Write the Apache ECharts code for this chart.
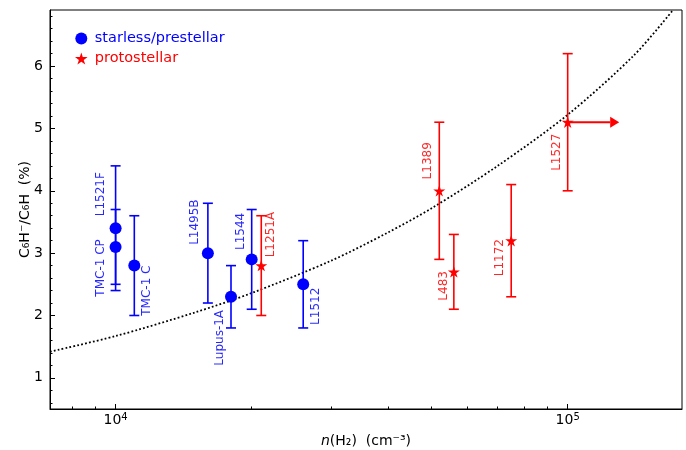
<!DOCTYPE html>
<html><head><meta charset="utf-8">
<script src="https://cdn.jsdelivr.net/npm/echarts@6/dist/echarts.min.js"></script>
<style>html,body{margin:0;padding:0;background:#fff}#c{width:686px;height:450px}</style>
</head><body><div id="c"></div>
<script>
// ---------------- data ----------------
const starlessNames   = ['L1521F', 'TMC-1 CP', 'TMC-1 C', 'L1495B', 'Lupus-1A', 'L1544', 'L1512'];
const starlessDensity = [1.0e4, 1.0e4, 1.1e4, 1.6e4, 1.8e4, 2.0e4, 2.6e4];
const starlessRatio   = [3.4, 3.1, 2.8, 3.0, 2.3, 2.9, 2.5];
const starlessErr     = [1.0, 0.6, 0.8, 0.8, 0.5, 0.8, 0.7];

const protoNames   = ['L1251A', 'L1389', 'L483', 'L1172', 'L1527'];
const protoDensity = [2.1e4, 5.2e4, 5.6e4, 7.5e4, 1.0e5];
const protoRatio   = [2.8, 4.0, 2.7, 3.2, 5.1];
const protoErr     = [0.8, 1.1, 0.6, 0.9, 1.1];

// lower limit on density for L1527 (arrow)
const limitStart = [1.0e5, 5.1];
const limitEnd   = [1.3e5, 5.1];

// dotted model curve
const curveDensity = [7160, 1.0e4, 1.5e4, 2.0e4, 3.0e4, 4.0e4, 5.0e4, 7.0e4, 1.0e5, 1.4e5, 1.71e5];
const curveRatio   = [1.42, 1.67, 2.05, 2.36, 2.88, 3.33, 3.72, 4.40, 5.22, 6.17, 6.90];

const xMajorTicks = [1e4, 1e5];
const xMinorTicks = [8e3, 9e3, 2e4, 3e4, 4e4, 5e4, 6e4, 7e4, 8e4, 9e4];
const yMajorTicks = [1, 2, 3, 4, 5, 6];
const yMinorTicks = [0.6, 0.8, 1.2, 1.4, 1.6, 1.8, 2.2, 2.4, 2.6, 2.8, 3.2, 3.4, 3.6, 3.8,
                     4.2, 4.4, 4.6, 4.8, 5.2, 5.4, 5.6, 5.8, 6.2, 6.4, 6.6, 6.8];

// ---------------- styling ----------------
const FONT = 'DejaVu Sans';
const BLUE = '#0000ff', RED = '#ff0000';
// pixel offsets of the rotated name labels relative to their points
const labelOffsets = {
  'L1521F': [-15, -34], 'TMC-1 CP': [-15, 21], 'TMC-1 C': [13, 25], 'L1495B': [-13, -31],
  'Lupus-1A': [-11, 41], 'L1544': [-11, -28], 'L1512': [13, 22],
  'L1251A': [10, -31], 'L1389': [-11, -30], 'L483': [-10, 14], 'L1172': [-11, 17], 'L1527': [-11, 30]
};

function starPath() {
  const pts = [];
  for (let i = 0; i < 10; i++) {
    const r = i % 2 === 0 ? 100 : 38.2;
    const a = -Math.PI / 2 + i * Math.PI / 5;
    pts.push((r * Math.cos(a)).toFixed(2) + ' ' + (r * Math.sin(a)).toFixed(2));
  }
  return 'path://M' + pts.join(' L') + ' Z';
}
const STAR = starPath();

const sBlue = starlessDensity.map((d, i) => [d, starlessRatio[i], starlessErr[i]]);
const sRed = protoDensity.map((d, i) => [d, protoRatio[i], protoErr[i]]);

function errRender(color) {
  return function (params, api) {
    const x = api.value(0), y = api.value(1), e = api.value(2);
    const t = api.coord([x, y + e]), b = api.coord([x, y - e]);
    const cw = 5, st = { stroke: color, lineWidth: 1.6 };
    return { type: 'group', children: [
      { type: 'line', shape: { x1: t[0], y1: t[1], x2: b[0], y2: b[1] }, style: st },
      { type: 'line', shape: { x1: t[0] - cw, y1: t[1], x2: t[0] + cw, y2: t[1] }, style: st },
      { type: 'line', shape: { x1: b[0] - cw, y1: b[1], x2: b[0] + cw, y2: b[1] }, style: st }
    ]};
  };
}
function labelRender(color, names) {
  return function (params, api) {
    const p = api.coord([api.value(0), api.value(1)]);
    const name = names[params.dataIndex];
    const off = labelOffsets[name] || [0, 0];
    return { type: 'text', x: p[0] + off[0], y: p[1] + off[1], rotation: Math.PI / 2,
      style: { text: name, fill: color, opacity: 0.85, fontSize: 12, fontFamily: FONT,
               align: 'center', verticalAlign: 'middle' } };
  };
}

const chart = echarts.init(document.getElementById('c'), null, { renderer: 'canvas' });
const xMin = 7160, xMax = 179000;
const axisCommon = { splitLine: { show: false } };

chart.setOption({
  animation: false,
  backgroundColor: '#fff',
  textStyle: { fontFamily: FONT },
  grid: { left: 50, right: 4, top: 10, bottom: 41, show: true, borderColor: '#000', borderWidth: 1,
          containLabel: false, outerBoundsMode: 'none' },
  legend: {
    orient: 'vertical', left: 70, top: 26, itemWidth: 17, itemHeight: 12, itemGap: 5,
    textStyle: { fontSize: 14.5, fontFamily: FONT },
    data: [
      { name: 'starless/prestellar', icon: 'circle', textStyle: { color: BLUE } },
      { name: 'protostellar', icon: STAR, textStyle: { color: RED } }
    ]
  },
  xAxis: [
    Object.assign({
      type: 'log', logBase: 10, min: xMin, max: xMax, position: 'bottom',
      axisLine: { show: true, lineStyle: { color: '#000', width: 1 } },
      axisTick: { show: true, inside: true, length: 5, customValues: xMajorTicks, lineStyle: { color: '#000' } },
      axisLabel: { customValues: xMajorTicks, color: '#000', fontSize: 14, fontFamily: FONT, margin: 3,
                   formatter: v => '{b|10}{s|' + Math.round(Math.log10(v)) + '}',
                   rich: { b: { fontSize: 14, fontFamily: FONT, color: '#000' },
                           s: { fontSize: 10, fontFamily: FONT, color: '#000', padding: [0, 0, 7, 0] } } },
      name: '{i|n}(H₂)  (cm⁻³)', nameLocation: 'middle', nameGap: 25, nameMoveOverlap: false,
      nameTextStyle: { color: '#000', fontSize: 14, fontFamily: FONT,
                       rich: { i: { fontStyle: 'italic', fontSize: 14, fontFamily: FONT, color: '#000' } } }
    }, axisCommon),
    Object.assign({
      type: 'log', logBase: 10, min: xMin, max: xMax, position: 'bottom',
      axisLine: { show: false },
      axisTick: { show: true, inside: true, length: 2.5, customValues: xMinorTicks, lineStyle: { color: '#000' } },
      axisLabel: { show: false }
    }, axisCommon)
  ],
  yAxis: [
    Object.assign({
      type: 'value', min: 0.5, max: 6.9, position: 'left',
      axisLine: { show: true, lineStyle: { color: '#000', width: 1 } },
      axisTick: { show: true, inside: true, length: 5, customValues: yMajorTicks, lineStyle: { color: '#000' } },
      axisLabel: { customValues: yMajorTicks, color: '#000', fontSize: 14, fontFamily: FONT, margin: 7 },
      name: 'C₆H⁻/C₆H  (%)', nameLocation: 'middle', nameRotate: 90, nameGap: 18, nameMoveOverlap: false,
      nameTextStyle: { color: '#000', fontSize: 14, fontFamily: FONT }
    }, axisCommon),
    Object.assign({
      type: 'value', min: 0.5, max: 6.9, position: 'left',
      axisLine: { show: false },
      axisTick: { show: true, inside: true, length: 2.5, customValues: yMinorTicks, lineStyle: { color: '#000' } },
      axisLabel: { show: false }
    }, axisCommon)
  ],
  series: [
    { type: 'line', name: 'model', data: curveDensity.map((d, i) => [d, curveRatio[i]]),
      showSymbol: false, smooth: 0.3, clip: true, z: 1,
      lineStyle: { color: '#000', width: 1.8, type: [1.8, 2.2] } },
    { type: 'custom', name: 'err-blue', data: sBlue, renderItem: errRender(BLUE), z: 2, silent: true },
    { type: 'custom', name: 'err-red', data: sRed, renderItem: errRender(RED), z: 2, silent: true },
    { type: 'custom', name: 'arrow', data: [[limitStart[0], limitStart[1], limitEnd[0]]], z: 2, silent: true,
      renderItem: function (params, api) {
        const s = api.coord([api.value(0), api.value(1)]);
        const e = api.coord([api.value(2), api.value(1)]);
        const hl = 9, hw = 5.5;
        return { type: 'group', children: [
          { type: 'line', shape: { x1: s[0], y1: s[1], x2: e[0] - hl, y2: e[1] }, style: { stroke: RED, lineWidth: 2 } },
          { type: 'polygon', shape: { points: [[e[0], e[1]], [e[0] - hl, e[1] - hw], [e[0] - hl, e[1] + hw]] }, style: { fill: RED } }
        ]};
      } },
    { type: 'scatter', name: 'starless/prestellar', data: sBlue, symbol: 'circle', symbolSize: 12,
      itemStyle: { color: BLUE, opacity: 1 }, z: 3 },
    { type: 'scatter', name: 'protostellar', data: sRed, symbol: STAR, symbolSize: [12, 11.5],
      itemStyle: { color: RED, opacity: 1 }, z: 3 },
    { type: 'custom', name: 'lab-blue', data: sBlue, renderItem: labelRender(BLUE, starlessNames), z: 4, silent: true },
    { type: 'custom', name: 'lab-red', data: sRed, renderItem: labelRender(RED, protoNames), z: 4, silent: true }
  ]
});
</script>
</body></html>
